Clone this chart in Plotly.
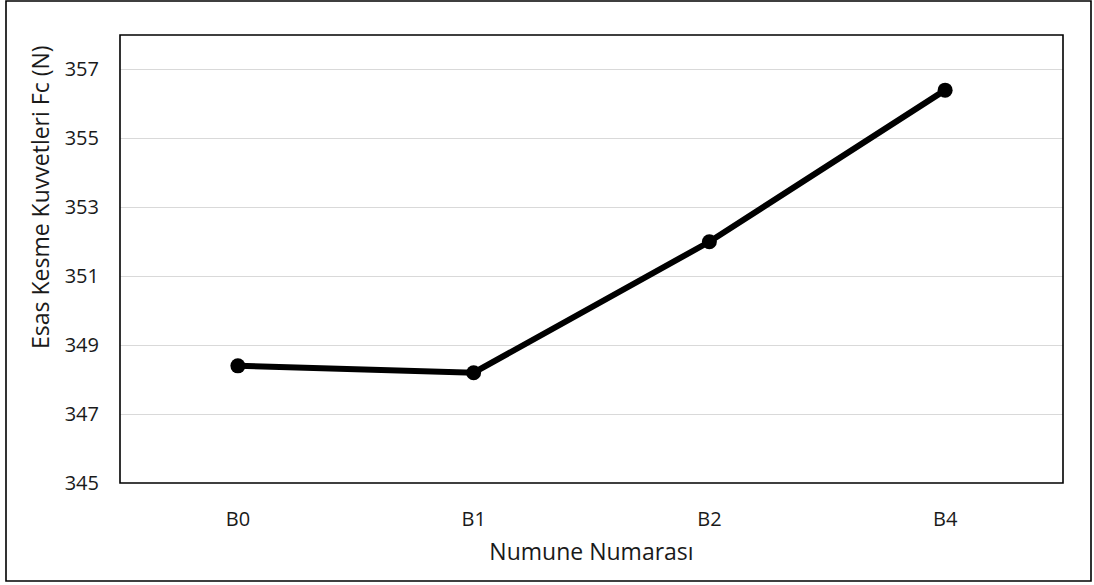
import plotly.graph_objects as go

# Sample IDs and the main cutting force measured for each
samples = ["B0", "B1", "B2", "B4"]
cutting_force = [348.4, 348.2, 352.0, 356.4]
y_ticks = [345, 347, 349, 351, 353, 355, 357]

W, H = 1094, 585
ML, MR, MT, MB = 120, 31, 35, 102
pw, ph = W - ML - MR, H - MT - MB

fig = go.Figure(
    go.Scatter(
        x=samples,
        y=cutting_force,
        mode="lines+markers",
        line=dict(color="black", width=6),
        marker=dict(color="black", size=15),
        showlegend=False,
    )
)

font = "Open Sans, Liberation Sans, sans-serif"
txt = "#1a1a1a"

fig.update_layout(
    width=W,
    height=H,
    margin=dict(l=ML, r=MR, t=MT, b=MB),
    paper_bgcolor="white",
    plot_bgcolor="white",
    font=dict(family=font, size=20, color=txt),
    xaxis=dict(
        type="category",
        range=[-0.5, 3.5],
        showgrid=False,
        ticks="",
        ticklabelstandoff=22,
        tickfont=dict(size=20, color=txt),
        title=dict(text="Numune Numarası", font=dict(size=23, color=txt), standoff=12),
        showline=False,
        zeroline=False,
    ),
    yaxis=dict(
        range=[345, 358],
        tickvals=y_ticks,
        showgrid=True,
        gridcolor="#d9d9d9",
        gridwidth=1.3,
        ticks="",
        ticklabelstandoff=20,
        tickfont=dict(size=20, color=txt),
        showline=False,
        zeroline=False,
    ),
    annotations=[
        # vertical axis title, placed as in the Excel chart layout
        dict(text="Esas Kesme Kuvvetleri Fc (N)", textangle=-90,
             xref="paper", yref="paper",
             x=(40 - ML) / pw, y=(H - MB - 197) / ph,
             xanchor="center", yanchor="middle", showarrow=False,
             font=dict(size=23, color=txt)),
    ],
    shapes=[
        # plot-area frame
        dict(type="rect", xref="paper", yref="paper", x0=0, y0=0, x1=1, y1=1,
             line=dict(color="black", width=1.6), layer="above"),
        # outer chart frame
        dict(type="rect", xref="paper", yref="paper",
             x0=(6 - ML) / pw, x1=(1091 - ML) / pw,
             y0=(H - MB - 581) / ph, y1=(H - MB - 1) / ph,
             line=dict(color="black", width=1.6), layer="above"),
    ],
)

fig.write_html("out.html")
